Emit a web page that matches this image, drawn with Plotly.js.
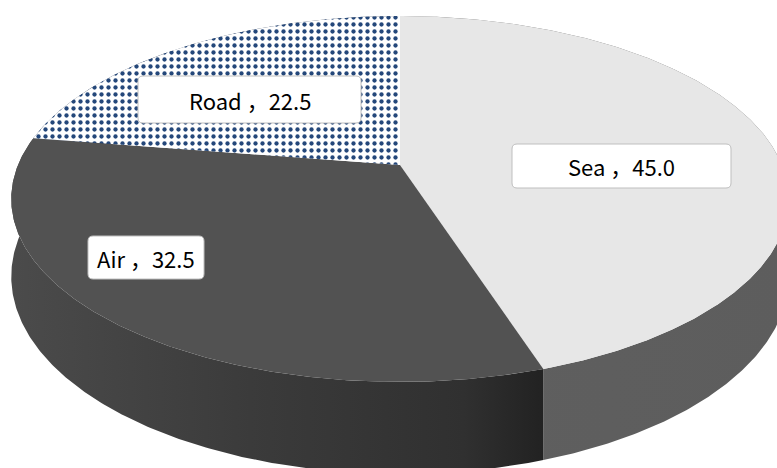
<!DOCTYPE html>
<html>
<head>
<meta charset="utf-8">
<script src="https://cdn.plot.ly/plotly-3.0.1.min.js"></script>
<style>html,body{margin:0;padding:0;background:#fff;}#chart{width:777px;height:468px;}</style>
</head>
<body>
<div id="chart"></div>
<script>
// ---- data ----
const categories = ['Sea', 'Air', 'Road'];
const values = [45.0, 32.5, 22.5];

// ---- styles / geometry (not data) ----
const topColors = ['#e7e7e7', '#525252', null];
const sideGradients = [
  [[0, '#6a6a6a'], [0.08, '#5f5f5f'], [1, '#5d5d5d']],
  [[0, '#4b4b4b'], [0.45, '#3b3b3b'], [0.85, '#303030'], [1, '#222222']],
  [[0, '#2a3a55'], [1, '#2a3a55']]
];
const geo = {cx: 400, cy: 165, r: 382, q: -146, c: 0.1856, depth: 75};
const labelBoxes = [
  {cx: 621.5, cy: 166, w: 219, h: 44},
  {cx: 146, cy: 257.5, w: 116, h: 43},
  {cx: 249.5, cy: 99.5, w: 223, h: 47}
];

function proj(deg, drop) {
  const t = deg * Math.PI / 180;
  const u = Math.sin(t), v = Math.cos(t);
  const den = 1 + geo.c * v;
  return [geo.cx + geo.r * u / den, (geo.cy + geo.q * v + drop) / den];
}
function arc(a1, a2, drop) {
  const pts = [];
  const n = Math.max(2, Math.ceil(Math.abs(a2 - a1) / 0.5));
  for (let i = 0; i <= n; i++) pts.push(proj(a1 + (a2 - a1) * i / n, drop));
  return pts;
}

const total = values.reduce((s, v) => s + v, 0);
const angles = [];
let acc = 0;
values.forEach(v => { const a1 = acc / total * 360; acc += v; angles.push([a1, acc / total * 360]); });

const sideTraces = [], topTraces = [];
categories.forEach((name, i) => {
  const [a1, a2] = angles[i];
  const topArc = arc(a1, a2, 0);
  const botArc = arc(a2, a1, geo.depth);
  const sidePts = topArc.concat(botArc);
  sidePts.push(topArc[0]);
  sideTraces.push({
    type: 'scatter', mode: 'lines', x: sidePts.map(p => p[0]), y: sidePts.map(p => p[1]),
    fill: 'toself', line: {width: 0},
    fillgradient: {type: 'horizontal', colorscale: sideGradients[i]},
    hoverinfo: 'skip', showlegend: false
  });
  const centre = [geo.cx, geo.cy];
  const topPts = [centre].concat(topArc, [centre]);
  const tr = {
    type: 'scatter', mode: 'lines', x: topPts.map(p => p[0]), y: topPts.map(p => p[1]),
    fill: 'toself', line: {width: 0}, hoverinfo: 'skip', showlegend: false, name: name
  };
  if (topColors[i]) tr.fillcolor = topColors[i];
  else {
    tr.fillcolor = '#ffffff';
    tr.fillpattern = {shape: '.', fgcolor: '#24477a', bgcolor: '#ffffff', size: 7, solidity: 0.3};
  }
  topTraces.push(tr);
});

function roundRect(b, rad) {
  const x0 = b.cx - b.w / 2, x1 = b.cx + b.w / 2, y0 = b.cy - b.h / 2, y1 = b.cy + b.h / 2;
  return `M${x0 + rad},${y0} L${x1 - rad},${y0} Q${x1},${y0} ${x1},${y0 + rad} L${x1},${y1 - rad} Q${x1},${y1} ${x1 - rad},${y1} L${x0 + rad},${y1} Q${x0},${y1} ${x0},${y1 - rad} L${x0},${y0 + rad} Q${x0},${y0} ${x0 + rad},${y0} Z`;
}

const shapes = labelBoxes.map(b => ({
  type: 'path', xref: 'x', yref: 'y', path: roundRect(b, 5),
  fillcolor: '#ffffff', line: {color: '#bfbfbf', width: 1}, layer: 'above'
}));
const annotations = categories.map((name, i) => ({
  xref: 'x', yref: 'y', x: labelBoxes[i].cx, y: labelBoxes[i].cy,
  text: name + ' ，' + values[i].toFixed(1), showarrow: false,
  font: {family: 'Noto Sans CJK SC, Noto Sans, sans-serif', size: 22, color: '#000000'},
  xanchor: 'center', yanchor: 'middle'
}));

const layout = {
  width: 777, height: 468,
  margin: {l: 0, r: 0, t: 0, b: 0},
  paper_bgcolor: '#ffffff', plot_bgcolor: '#ffffff',
  xaxis: {range: [0, 777], visible: false, fixedrange: true},
  yaxis: {range: [468, 0], visible: false, fixedrange: true},
  shapes: shapes, annotations: annotations, showlegend: false, hovermode: false
};

Plotly.newPlot('chart', sideTraces.concat(topTraces), layout, {displayModeBar: false, staticPlot: true});
</script>
</body>
</html>
